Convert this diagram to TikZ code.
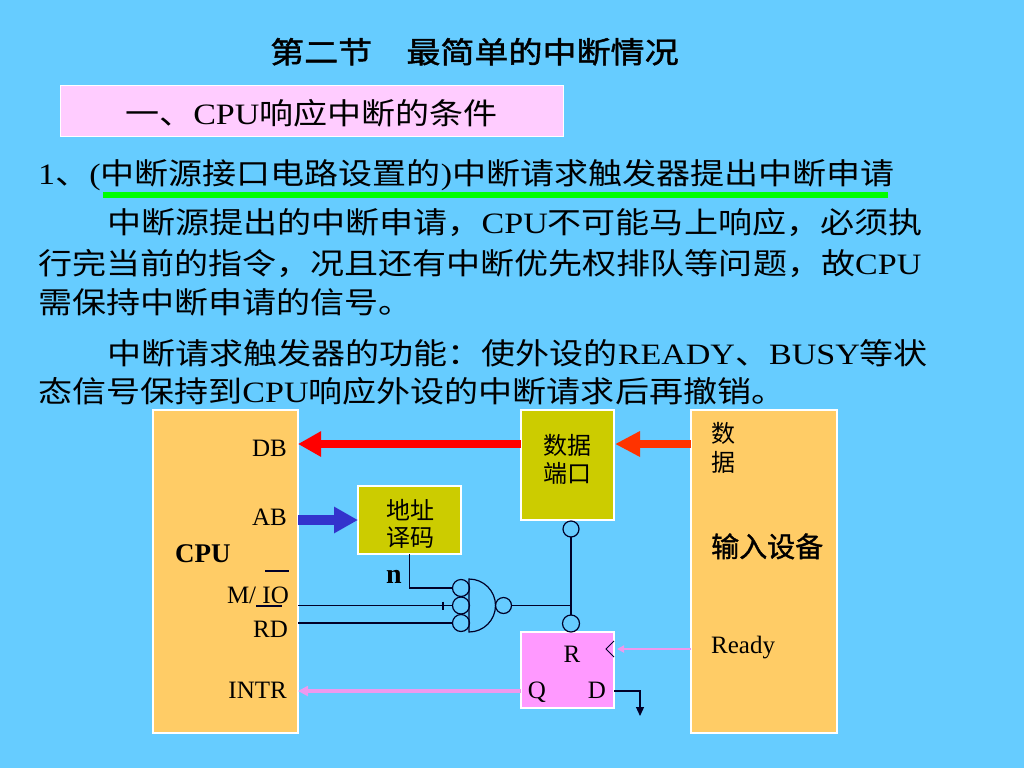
\documentclass[tikz,border=0pt]{standalone}
\usepackage{fontspec}
\setmainfont{Liberation Serif}
\newfontfamily\cjk{Noto Sans CJK SC}
\newfontfamily\cjkB{Noto Sans CJK SC}[FakeBold=1.2]
\newfontfamily\serifS{Liberation Serif}[FakeStretch=1.15]
\newfontfamily\cjkS{Noto Sans CJK SC}[FakeStretch=1.15]
\newfontfamily\cjkSB{Noto Sans CJK SC}[FakeStretch=1.15,FakeBold=1.5]
\usetikzlibrary{arrows.meta}
\definecolor{bgblue}{RGB}{102,204,255}
\definecolor{boxorange}{RGB}{255,204,102}
\definecolor{boxolive}{RGB}{204,204,0}
\definecolor{ffpink}{RGB}{255,153,255}
\definecolor{hdrpink}{RGB}{255,204,255}
\definecolor{linegreen}{RGB}{0,255,0}
\definecolor{dbred}{RGB}{255,0,0}
\definecolor{devred}{RGB}{255,51,0}
\definecolor{abblue}{RGB}{51,51,204}
\definecolor{sigpink}{RGB}{238,153,238}
\definecolor{wirecol}{RGB}{0,0,40}
\newcommand\Z[1]{{\cjkS #1}}
\newcommand\bodyfont{\serifS\fontsize{29.6}{34}\selectfont}
\newcommand\lblfont{\fontsize{25}{28}\selectfont}
\newcommand\boxcjkfont{\cjk\fontsize{24}{28}\selectfont}
\begin{document}
\begin{tikzpicture}[x=1pt,y=-1pt,
  body/.style={inner sep=0pt, anchor=base west, font=\bodyfont},
  lbl/.style={inner sep=0pt, anchor=base east, font=\lblfont},
  lblw/.style={inner sep=0pt, anchor=base west, font=\lblfont},
  lblc/.style={inner sep=0pt, anchor=base, font=\lblfont},
  boxtxt/.style={inner sep=0pt, anchor=base, font=\boxcjkfont},
  obox/.style={draw=white, line width=1.2pt, fill=boxorange, inner sep=0pt, outer sep=0pt},
  ybox/.style={draw=white, line width=1.2pt, fill=boxolive, inner sep=0pt, outer sep=0pt},
  pbox/.style={draw=white, line width=1.2pt, fill=ffpink, inner sep=0pt, outer sep=0pt},
  inv/.style={circle, draw=wirecol, line width=1.2pt, minimum size=17pt, inner sep=0pt, outer sep=0pt},
  wire/.style={draw=wirecol, line width=1.2pt},
  dbarrow/.style={dbred, line width=8pt, -{Triangle[length=23pt,width=24pt]}},
  devarrow/.style={devred, line width=8pt, -{Triangle[length=25pt,width=24pt]}},
  abarrow/.style={abblue, line width=10pt, -{Triangle[length=24pt,width=25pt]}},
  sigarrow/.style={sigpink, line width=4pt, -{Triangle[length=10pt,width=10pt]}},
  rdyarrow/.style={sigpink, line width=2.5pt, -{Triangle[length=7pt,width=7pt]}}
]
\useasboundingbox (0,0) rectangle (1024,768);
\fill[bgblue] (0,0) rectangle (1024,768);

% title and text
\node[inner sep=0pt, anchor=base west, font={\cjkSB\fontsize{29.6}{34}\selectfont}] (title) at (270,63) {第二节　最简单的中断情况};
\node[fill=hdrpink, draw=white, line width=1pt, minimum width=503pt, minimum height=51pt, inner sep=0pt] (hdr) at (311.5,110.5) {};
\node[body] (hdrtxt) at (125,124) {\Z{一、}CPU\Z{响应中断的条件}};
\node[body] (l1) at (38,184) {1\Z{、}(\Z{中断源接口电路设置的})\Z{中断请求触发器提出中断申请}};
\draw[linegreen, line width=6pt] (103,195) -- (888,195);
\node[body] (l2) at (107,233) {\Z{中断源提出的中断申请，}CPU\Z{不可能马上响应，必须执}};
\node[body] (l3) at (38,274) {\Z{行完当前的指令，况且还有中断优先权排队等问题，故}CPU};
\node[body] (l4) at (38,313) {\Z{需保持中断申请的信号。}};
\node[body] (l5) at (107,364) {\Z{中断请求触发器的功能：使外设的}READY\Z{、}BUSY\Z{等状}};
\node[body] (l6) at (38,402) {\Z{态信号保持到}CPU\Z{响应外设的中断请求后再撤销。}};

% boxes
\node[obox, minimum width=145pt, minimum height=323pt] (cpu) at (225.5,571.5) {};
\node[obox, minimum width=146pt, minimum height=323pt] (dev) at (764,571.5) {};
\node[ybox, minimum width=93pt, minimum height=110pt] (dport) at (567.5,465) {};
\node[ybox, minimum width=103pt, minimum height=68pt] (dec) at (409.5,520) {};
\node[pbox, minimum width=93pt, minimum height=76pt] (ff) at (567.5,670) {};

% CPU labels
\node[lbl] (tDB) at (287,456) {DB};
\node[lbl] (tAB) at (287,525) {AB};
\node[inner sep=0pt, anchor=base west, font={\bfseries\fontsize{27}{30}\selectfont}] (tCPU) at (175,562) {CPU};
\node[lbl] (tMIO) at (289,603) {M/ IO};
\draw[wire] (265,571) -- (289,571);
\draw[wire] (256,606) -- (282,606);
\node[lbl] (tRD) at (288,637) {RD};
\node[lbl] (tINTR) at (287,698) {INTR};

% device labels
\node[boxtxt, anchor=base west] (tshu) at (711,442) {数};
\node[boxtxt, anchor=base west] (tju) at (711,471) {据};
\node[inner sep=0pt, anchor=base west, font={\cjkB\fontsize{28}{30}\selectfont}] (tdev) at (711,557) {输入设备};
\node[lblw] (tReady) at (711,653) {Ready};

% box texts
\node[boxtxt] (tdp1) at (567,454) {数据};
\node[boxtxt] (tdp2) at (567,482) {端口};
\node[boxtxt] (tdc1) at (410,519) {地址};
\node[boxtxt] (tdc2) at (410,546) {译码};
\node[lblc] (tR) at (572,662) {R};
\node[lblc] (tQ) at (537,698) {Q};
\node[lblc] (tD) at (597,698) {D};
\node[inner sep=0pt, anchor=base, font={\bfseries\fontsize{28}{30}\selectfont}] (tn) at (394,583) {n};

% pins
\coordinate (dbpin) at (298,444);
\coordinate (abpin) at (298,520);
\coordinate (intrpin) at (298,691);
\coordinate (clk) at (614,649);
\coordinate (dpin) at (614,691);
\coordinate (dend) at (640,716);

% bus arrows
\draw[dbarrow] (dbpin -| dport.west) -- (dbpin);
\draw[devarrow] (dbpin -| dev.west) -- ([xshift=1pt]dbpin -| dport.east);
\draw[abarrow] (abpin) -- (abpin -| dec.west);

% gate
\node[inv] (in1) at (461,588) {};
\node[inv] (in2) at (461,605.5) {};
\node[inv] (in3) at (461,623) {};
\draw[wire] (469,579) arc[start angle=-90, end angle=90, radius=26.5] -- cycle;
\node[inv, minimum size=16pt] (out) at (503.5,605.5) {};
\node[inv, minimum size=16pt] (dpc) at (571,529) {};
\node[inv] (rc) at (571,623.5) {};

\draw[wire] (dec.south) |- (in1.west);
\draw[wire] (cpu.east |- in2) -- (in2.west);
\draw[wire] (cpu.east |- in3) -- (in3.west);
\draw[wire] (443,601.5) -- (443,609.5);
\draw[wire] (out.east) -- (out.east -| dpc.south);
\draw[wire] (dpc.south) -- (rc.north);

% flip-flop signals
\draw[sigarrow] (intrpin -| ff.west) -- (intrpin);
\draw[rdyarrow] (clk -| dev.west) -- ([xshift=3pt]clk);
\draw[wire, line width=1pt] ([yshift=-8pt]clk) -- ([xshift=-8pt]clk) -- ([yshift=8pt]clk);
\draw[wire, -{Triangle[length=9pt,width=8pt]}] (dpin) -| (dend);
\end{tikzpicture}
\end{document}
